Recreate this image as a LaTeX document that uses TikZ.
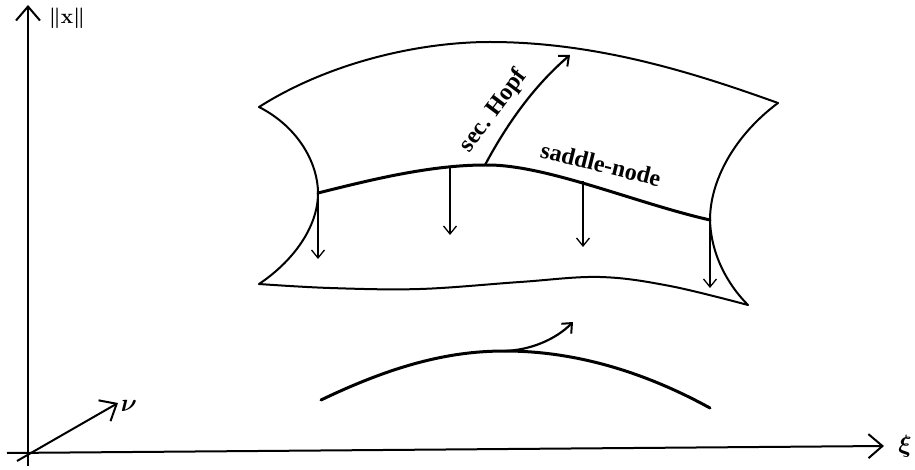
\documentclass[tikz,border=0pt]{standalone}
\usepackage{fontspec}
\setmainfont{Liberation Serif}
\usetikzlibrary{arrows.meta}
\begin{document}
\begin{tikzpicture}[x=1pt,y=-1pt,
  edge/.style={line width=2pt, line join=round, line cap=round},
  heavy/.style={line width=3pt, line cap=round},
  axis/.style={line width=2pt, -{Straight Barb[length=14pt,width=24pt,line width=2pt]}},
  down/.style={line width=1.3pt, -{Straight Barb[length=8pt,width=13pt,line width=1.3pt]}},
  flow/.style={line width=2.2pt, -{Straight Barb[length=8pt,width=14pt,line width=2pt]}},
  lab/.style={font=\fontsize{24}{24}\selectfont\bfseries, inner sep=0pt},
  axlab/.style={font=\fontsize{24}{24}\selectfont\boldmath, inner sep=0pt},
  normlab/.style={font=\fontsize{22}{22}\selectfont\boldmath, inner sep=0pt}]
\useasboundingbox (0,0) rectangle (915,470);
% axes
\coordinate (Yb) at (28,466);
\coordinate (Yt) at (28,5);
\coordinate (Xl) at (7,453);
\coordinate (Xr) at (884,446);
\coordinate (Vs) at (17,461);
\coordinate (Ve) at (118,403);
\draw[axis] (Yb) -- (Yt);
\draw[axis] (Xl) -- (Xr);
\draw[axis] (Vs) -- (Ve);
\node[normlab] (lx) at (67,18) {$\|\mathbf{x}\|$};
\node[axlab] (lxi) at (905,446) {$\xi$};
\node[axlab] (lnu) at (129,406) {$\nu$};
% surface corners
\coordinate (TL) at (259,107);
\coordinate (BL) at (259,284);
\coordinate (BR) at (748,305);
\coordinate (TR) at (778,103);
\coordinate (SL) at (318,193);
\coordinate (SR) at (710,220);
\coordinate (SH) at (485,165);
\coordinate (HT) at (570,55);
% edges
\draw[edge] (TL) .. controls (330,62) and (420,42) .. (490,42) .. controls (600,42) and (700,75) .. (TR);
\draw[edge] (TL) .. controls (300,128) and (318,165) .. (SL) .. controls (318,228) and (292,262) .. (BL);
\draw[edge] (TR) .. controls (735,135) and (710,180) .. (SR) .. controls (711,255) and (728,285) .. (BR);
\draw[edge] plot[smooth, tension=0.6] coordinates {(BL) (330,288) (420,289) (520,282) (600,277) (670,286) (BR)};
% saddle-node curve
\draw[heavy] (SL) .. controls (370,180) and (430,165) .. (SH) .. controls (545,164) and (635,203) .. (SR);
% down arrows
\draw[down] (SL) -- (318,259);
\draw[down] (450,168) -- (450,235);
\draw[down] (583,181) -- (583,247);
\draw[down] (SR) -- (710,288);
% sec Hopf
\draw[flow] (SH) .. controls (508,122) and (535,85) .. (HT);
\node[lab, rotate=53] (lh) at (494,111) {sec. Hopf};
\node[lab, rotate=-14] (ls) at (601,164) {saddle-node};
% bottom curve
\coordinate (B1) at (321,400);
\coordinate (B2) at (505,351);
\coordinate (B3) at (710,408);
\coordinate (BT) at (573,322);
\draw[heavy] (B1) .. controls (400,362) and (455,351) .. (B2) .. controls (580,351) and (650,375) .. (B3);
\draw[flow] (B2) .. controls (530,350) and (555,340) .. (BT);
\end{tikzpicture}
\end{document}
